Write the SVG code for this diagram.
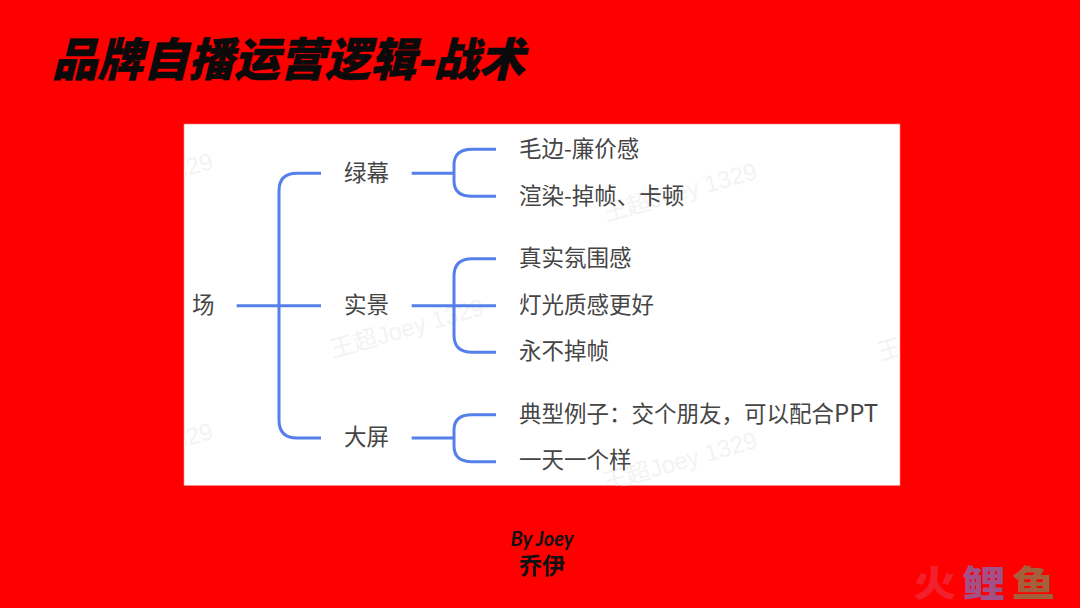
<svg xmlns="http://www.w3.org/2000/svg" width="1080" height="608" viewBox="0 0 1080 608">
<style>
text{font-family:"Noto Sans CJK SC","Noto Sans",sans-serif}
.t{font-size:22.5px;fill:#454545}
.w{font-size:24px;fill:#f3f3f3;font-family:"Liberation Sans","Noto Sans CJK SC",sans-serif}
.c{fill:none;stroke:#5580ea;stroke-width:3}
</style>
<defs><clipPath id="cp"><rect x="184" y="124" width="716" height="361.500"/></clipPath></defs>
<rect width="1080" height="608" fill="#ff0000"/>
<text x="52" y="76" font-size="45.500" font-weight="900" font-style="italic" fill="#0a0a0a" stroke="#0a0a0a" stroke-width="0.500">品牌自播运营逻辑-战术</text>
<rect x="184" y="124" width="716" height="361.500" fill="#fff" stroke="#ff8a80" stroke-width="0.600"/>
<g id="watermarks" clip-path="url(#cp)">
<text class="w" transform="translate(62 212) rotate(-16)">王超Joey 1329</text>
<text class="w" transform="translate(606 222) rotate(-16)">王超Joey 1329</text>
<text class="w" transform="translate(333 358) rotate(-16)">王超Joey 1329</text>
<text class="w" transform="translate(880 361) rotate(-16)">王超Joey 1329</text>
<text class="w" transform="translate(62 482) rotate(-16)">王超Joey 1329</text>
<text class="w" transform="translate(606 491) rotate(-16)">王超Joey 1329</text>
</g>
<g id="connectors">
<path class="c" d="M321 173.300H297Q279 173.300 279 191V420Q279 438 297 438H321"/>
<path class="c" d="M236.700 305.700H321"/>
<path class="c" d="M411.700 173.300H454"/>
<path class="c" d="M496 149.300H472Q454 149.300 454 165V181Q454 196.300 472 196.300H496"/>
<path class="c" d="M411.700 305.700H496"/>
<path class="c" d="M496 258.700H472Q454 258.700 454 276V335Q454 352.300 472 352.300H496"/>
<path class="c" d="M411.700 438H454"/>
<path class="c" d="M496 414.700H472Q454 414.700 454 430V446Q454 461.700 472 461.700H496"/>
</g>
<g id="root"><text class="t" x="192" y="313">场</text></g>
<g id="n1"><text class="t" x="344" y="180.500">绿幕</text></g>
<g id="n2"><text class="t" x="344" y="313">实景</text></g>
<g id="n3"><text class="t" x="344" y="445">大屏</text></g>
<g id="l1"><text class="t" x="519" y="156.500">毛边-廉价感</text></g>
<g id="l2"><text class="t" x="519" y="203.500">渲染-掉帧、卡顿</text></g>
<g id="l3"><text class="t" x="519" y="265.500">真实氛围感</text></g>
<g id="l4"><text class="t" x="519" y="312.500">灯光质感更好</text></g>
<g id="l5"><text class="t" x="519" y="359">永不掉帧</text></g>
<g id="l6"><text class="t" x="519" y="422">典型例子：交个朋友，可以配合<tspan font-size="24">PPT</tspan></text></g>
<g id="l7"><text class="t" x="519" y="468">一天一个样</text></g>
<text x="542" y="546" text-anchor="middle" font-size="20" font-weight="700" font-style="italic" fill="#111" style="font-family:Lato,sans-serif">By Joey</text>
<text x="542" y="574" text-anchor="middle" font-size="23" font-weight="700" fill="#111">乔伊</text>
<g id="logo" font-size="36" font-weight="900">
<text transform="translate(913 597) scale(1.2 1)" fill="#f2202c">火</text>
<text transform="translate(962 597) scale(1.2 1)" fill="#a35088">鲤</text>
<text transform="translate(1012 597) scale(1.2 1)" fill="#a2603c">鱼</text>
</g>
</svg>
